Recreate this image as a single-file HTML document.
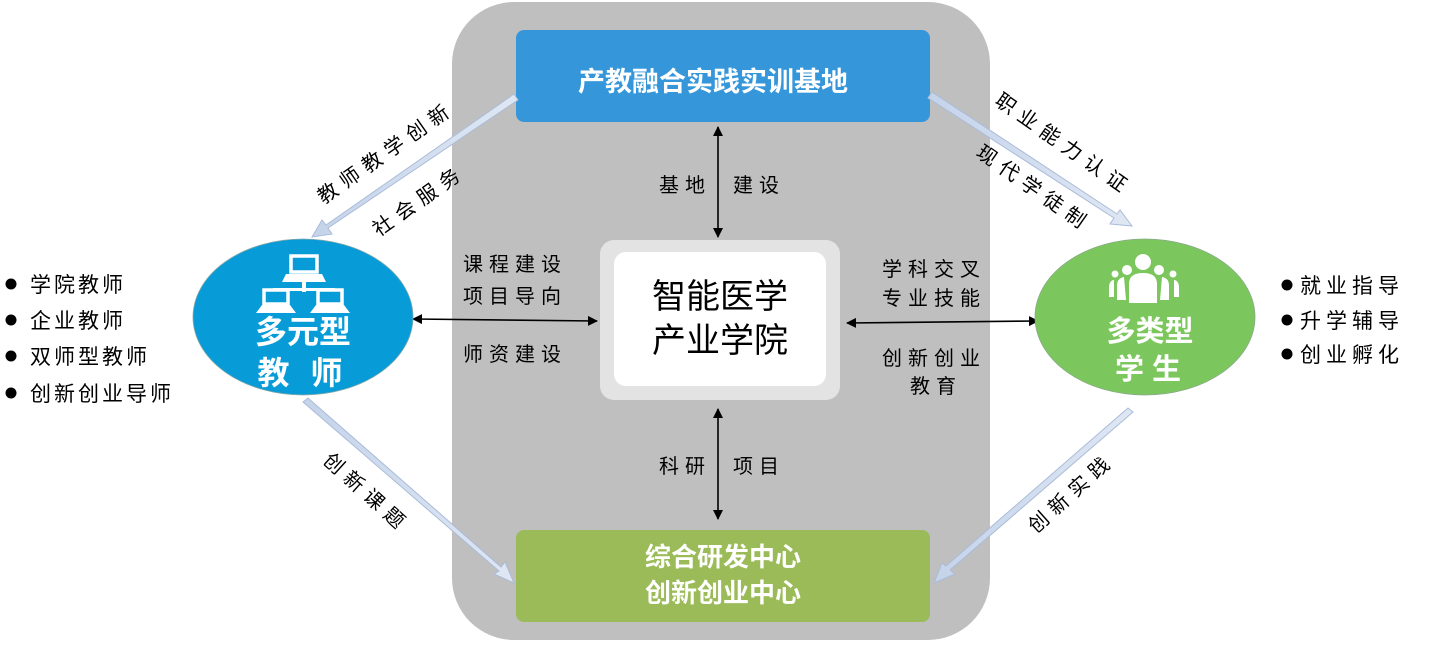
<!DOCTYPE html>
<html><head><meta charset="utf-8"><style>
body{margin:0;background:#fff;}
svg text{font-family:"Liberation Sans","Noto Sans CJK SC",sans-serif;}
</style></head><body>
<svg width="1456" height="642" viewBox="0 0 1456 642" xmlns="http://www.w3.org/2000/svg">
<defs>
<marker id="ab" markerWidth="10" markerHeight="10" refX="9" refY="5" orient="auto-start-reverse" markerUnits="userSpaceOnUse"><path d="M0,0 L10,5 L0,10 Z" fill="#000"/></marker>
<linearGradient id="lb" x1="0" y1="0" x2="1" y2="0"><stop offset="0" stop-color="#c5d3ea"/><stop offset="1" stop-color="#dfe7f3"/></linearGradient>
</defs>
<rect x="452" y="2" width="538" height="638" rx="62" fill="#bfbfbf"/>
<rect x="516" y="30" width="414" height="92" rx="8" fill="#3696da"/>
<text x="713" y="91" font-size="27" font-weight="bold" fill="#fff" text-anchor="middle">产教融合实践实训基地</text>
<rect x="516" y="530" width="414" height="92" rx="8" fill="#9bbb59"/>
<text x="723" y="566" font-size="26" font-weight="bold" fill="#fff" text-anchor="middle">综合研发中心</text>
<text x="723" y="602" font-size="26" font-weight="bold" fill="#fff" text-anchor="middle">创新创业中心</text>
<rect x="600" y="240" width="240" height="160" rx="14" fill="#e3e3e3"/>
<rect x="614" y="252" width="212" height="134" rx="12" fill="#fff"/>
<text x="720" y="308" font-size="34" fill="#000" text-anchor="middle">智能医学</text>
<text x="720" y="352" font-size="34" fill="#000" text-anchor="middle">产业学院</text>

<g stroke="#a9bcd9" stroke-width="1" fill="url(#lb)">
<polygon points="514,94 518,100 328,228 332,234 312,237 322,220 326,225"/>
<polygon points="932,92 928,98 1114,218 1110,224 1132,226 1120,210 1117,214"/>
<polygon points="303,402 308,398 501,567 505,562 514,583 494,574 499,571"/>
<polygon points="1128,408 1133,412 950,570 955,574 934,583 942,563 946,566"/>
</g>
<g stroke="#000" stroke-width="1.6" marker-start="url(#ab)" marker-end="url(#ab)">
<line x1="718" y1="127" x2="718" y2="237"/>
<line x1="718" y1="409" x2="718" y2="519"/>
<line x1="413" y1="319" x2="597" y2="321"/>
<line x1="847" y1="323" x2="1038" y2="321"/>
</g>

<ellipse cx="303" cy="317" rx="110" ry="78" fill="#079bd7" stroke="#8aa" stroke-width="0.8"/>
<ellipse cx="1145" cy="317" rx="110" ry="78" fill="#7cc75d" stroke="#8a8" stroke-width="0.8"/>
<g fill="#fff">
<rect x="291" y="256" width="26" height="16" fill="none" stroke="#fff" stroke-width="3.5"/>
<polygon points="286,274 322,274 326,282 282,282"/>
<rect x="302" y="282" width="4" height="10"/>
<rect x="273" y="288" width="62" height="3"/>
<rect x="264" y="290" width="24" height="14" fill="none" stroke="#fff" stroke-width="3.5"/>
<rect x="318" y="290" width="24" height="14" fill="none" stroke="#fff" stroke-width="3.5"/>
<polygon points="262,305 290,305 296,313 256,313"/>
<polygon points="316,305 344,305 350,313 310,313"/>
</g>
<g fill="#fff">
<circle cx="1143" cy="262" r="8"/>
<path d="M1129,303 L1129,284 Q1129,273 1143,273 Q1157,273 1157,284 L1157,303 Z"/>
<circle cx="1127" cy="270" r="5"/>
<circle cx="1159" cy="270" r="5"/>
<path d="M1117,300 L1117,286 Q1117,278 1124,277 L1126,300 Z"/>
<path d="M1169,300 L1169,286 Q1169,278 1162,277 L1160,300 Z"/>
<circle cx="1115" cy="274" r="3.5"/>
<circle cx="1173" cy="274" r="3.5"/>
<path d="M1109,297 L1109,286 Q1110,280 1114,280 L1114,297 Z"/>
<path d="M1179,297 L1179,286 Q1178,280 1174,280 L1174,297 Z"/>
</g>
<text x="303" y="343" font-size="32" font-weight="bold" fill="#fff" text-anchor="middle">多元型</text>
<text x="303" y="384" font-size="32" font-weight="bold" fill="#fff" text-anchor="middle" letter-spacing="6">教 师</text>
<text x="1150" y="341" font-size="29" font-weight="bold" fill="#fff" text-anchor="middle">多类型</text>
<text x="1148" y="379" font-size="29" font-weight="bold" fill="#fff" text-anchor="middle">学 生</text>

<g font-size="20" fill="#000" letter-spacing="6">
<text x="659" y="192">基地</text><text x="733" y="192">建设</text>
<text x="659" y="473">科研</text><text x="733" y="473">项目</text>
<text x="463" y="271">课程建设</text>
<text x="463" y="303">项目导向</text>
<text x="463" y="361">师资建设</text>
<text x="882" y="276">学科交叉</text>
<text x="882" y="305">专业技能</text>
<text x="882" y="365">创新创业</text>
<text x="910" y="393">教育</text>
<text transform="translate(390,158) rotate(-35)" text-anchor="middle" letter-spacing="7">教师教学创新</text>
<text transform="translate(423,206) rotate(-35)" text-anchor="middle" letter-spacing="7">社会服务</text>
<text transform="translate(1060,150) rotate(35)" text-anchor="middle" letter-spacing="7">职业能力认证</text>
<text transform="translate(1030,194) rotate(35)" text-anchor="middle" letter-spacing="7">现代学徒制</text>
<text transform="translate(362,498) rotate(42)" text-anchor="middle" letter-spacing="7">创新课题</text>
<text transform="translate(1076,498) rotate(-42)" text-anchor="middle" letter-spacing="7">创新实践</text>
</g>
<g font-size="21" fill="#000" letter-spacing="3">
<circle cx="11" cy="284" r="5.5"/><text x="30" y="292">学院教师</text>
<circle cx="11" cy="320" r="5.5"/><text x="30" y="328">企业教师</text>
<circle cx="11" cy="356" r="5.5"/><text x="30" y="364">双师型教师</text>
<circle cx="11" cy="393" r="5.5"/><text x="30" y="401">创新创业导师</text>
</g>
<g font-size="21" fill="#000" letter-spacing="5">
<circle cx="1287" cy="285" r="5.5"/><text x="1300" y="293">就业指导</text>
<circle cx="1287" cy="320" r="5.5"/><text x="1300" y="328">升学辅导</text>
<circle cx="1287" cy="354" r="5.5"/><text x="1300" y="362">创业孵化</text>
</g>
</svg>
</body></html>
